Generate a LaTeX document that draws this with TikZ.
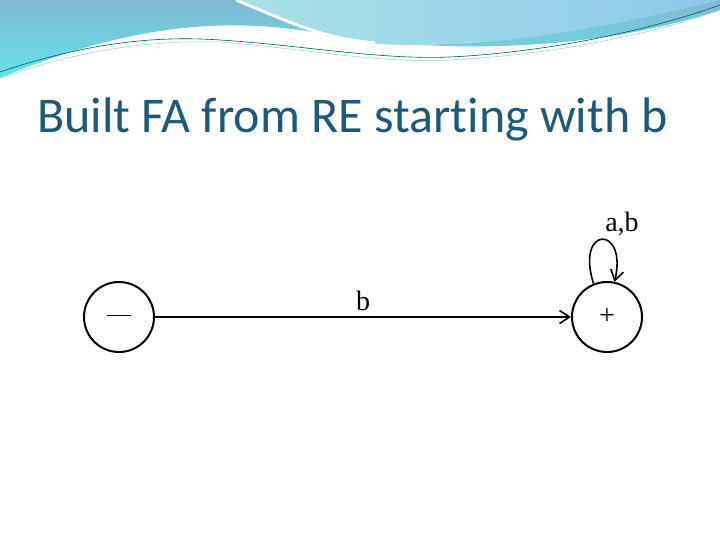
\documentclass[tikz,border=0pt]{standalone}
\usepackage{fontspec}
\setmainfont{Carlito}[RawFeature={-liga;-clig;-dlig;-calt}]
\newfontfamily\serifd{Liberation Serif}
\usetikzlibrary{arrows.meta}
\definecolor{titlec}{RGB}{30,90,120}
\begin{document}
\begin{tikzpicture}[x=1pt,y=-1pt,
  st/.style={circle,draw,line width=2pt,minimum size=70pt,inner sep=0pt,font=\serifd\fontsize{28}{28}\selectfont},
  lbl/.style={font=\serifd\fontsize{28}{28}\selectfont},
  edge/.style={line width=1.6pt,-{Straight Barb[length=10pt,width=13pt]}}]
\useasboundingbox (0,0) rectangle (720,540);
\fill[white] (0,0) rectangle (720,540);
% top decoration
\shade[top color={rgb,255:red,130;green,185;blue,210},bottom color={rgb,255:red,100;green,225;blue,235}]
  (0,0) -- (720,0) -- (720,10) .. controls (600,50) and (450,55) .. (330,35) .. controls (250,20) and (150,15) .. (0,78) -- cycle;
\shade[left color={rgb,255:red,170;green,225;blue,230},right color={rgb,255:red,140;green,200;blue,235}]
  (240,0) .. controls (300,25) and (330,40) .. (380,44) .. controls (480,50) and (600,30) .. (720,0) -- cycle;
\draw[white,line width=3pt] (236,0) .. controls (290,22) and (320,38) .. (375,43);
\draw[teal!70!black,line width=0.6pt] (0,72) .. controls (80,45) and (150,35) .. (220,40) .. controls (300,45) and (380,60) .. (450,57) .. controls (550,52) and (650,30) .. (720,5);
\draw[teal!40,line width=0.5pt] (0,78) .. controls (80,50) and (150,40) .. (220,42) .. controls (300,48) and (380,64) .. (450,60) .. controls (550,55) and (650,35) .. (720,10);
% title
\node[anchor=base west,inner sep=0pt,text=titlec,font=\fontsize{50}{50}\selectfont] (title) at (37,133) {Built FA from RE start\kern0pt ing with b};
% panel
\fill[white] (78,186) rectangle (655,365);
\node[st] (s) at (119,317) {\rule[0.3ex]{24pt}{1pt}};
\node[st] (f) at (607,317) {+};
\draw[edge] (s) -- node[lbl,above=2pt] {b} (f);
\draw[edge] (f.112) .. controls (575,225) and (628,225) .. (f.78);
\node[lbl] (loop) at (622,224) {a,b};
\end{tikzpicture}
\end{document}
